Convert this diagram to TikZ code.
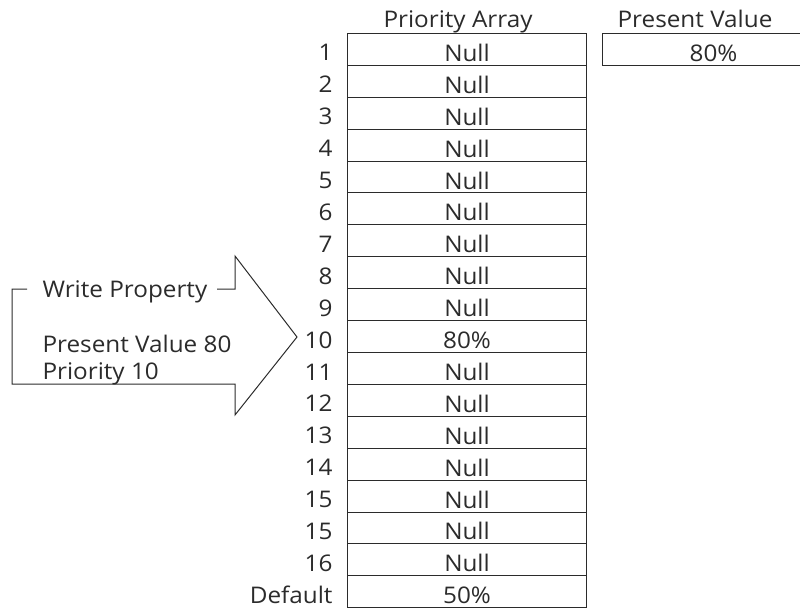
\documentclass[tikz,border=0pt]{standalone}
\usepackage{fontspec}
\setmainfont[FakeStretch=1.06]{Open Sans}
\definecolor{inkc}{HTML}{2B2B2B}
\newcommand{\mysz}{\fontsize{23}{27}\selectfont}
\begin{document}
\begin{tikzpicture}[x=1bp,y=-1bp,line width=1bp,
  cellbox/.style={draw=inkc, minimum width=239bp, minimum height=31.9bp, inner sep=0pt,
    text height=24bp, text depth=0bp, anchor=north west, font=\mysz, text=inkc},
  rowlab/.style={anchor=base east, inner sep=0pt, font=\mysz, text=inkc},
  plain/.style={inner sep=0pt, font=\mysz, text=inkc},
  outline/.style={draw=inkc, line width=1bp}]
\useasboundingbox (0,0) rectangle (800,608);
\clip (0,0) rectangle (800,608);
% headers
\node[plain, anchor=base] (pa) at (458,28) {Priority Array};
\node[plain, anchor=base] (pvh) at (695,28) {Present Value};
% priority array rows
\foreach \lab/\val [count=\i from 0] in {1/Null,2/Null,3/Null,4/Null,5/Null,6/Null,7/Null,8/Null,9/Null,10/80\%,11/Null,12/Null,13/Null,14/Null,15/Null,15/Null,16/Null,Default/50\%}{
  \node[cellbox] (r\i) at (347,33+31.9*\i) {\val};
  \node[rowlab] (l\i) at (333,33+31.9*\i+28) {\lab};
}
% present value box
\node[cellbox, minimum width=222bp] (pv) at (602,33) {80\%};
% write property arrow
\coordinate (a1) at (27,289);
\coordinate (a2) at (12,289);
\coordinate (a3) at (12,384);
\coordinate (a4) at (235,384);
\coordinate (a5) at (235,415);
\coordinate (tip) at (297,337);
\coordinate (a6) at (235,256);
\coordinate (a7) at (235,289);
\coordinate (a8) at (217,289);
\draw[outline] (a1) -- (a2) -- (a3) -- (a4) -- (a5) -- (tip) -- (a6) -- (a7) -- (a8);
\node[plain, anchor=base west] (wp) at (42,297) {Write Property};
\node[plain, anchor=base west] (pv80) at (42,352) {Present Value 80};
\node[plain, anchor=base west] (p10) at (42,379) {Priority 10};
\end{tikzpicture}
\end{document}
